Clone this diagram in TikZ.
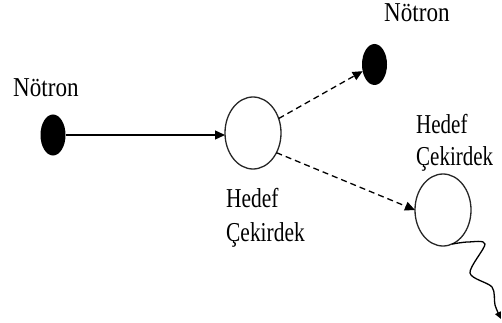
\documentclass[tikz,border=0pt]{standalone}
\usepackage{fontspec}
\setmainfont{Liberation Serif}
\usetikzlibrary{shapes.geometric,arrows.meta}

% labels are set a little taller than wide
\newcommand\mylbl[2]{\scalebox{#1}[1.3]{#2}}

\begin{document}
\begin{tikzpicture}[x=1pt,y=-1pt,
  nucleus/.style={ellipse,draw=black!85,line width=1.3pt,inner sep=0pt,outer sep=0pt,
                  minimum width=56pt,minimum height=72pt},
  neutron/.style={ellipse,fill=black,inner sep=0pt,outer sep=0pt,
                  minimum width=25pt,minimum height=41pt},
  lbl/.style={anchor=base west,inner sep=0pt,font=\fontsize{21}{24}\selectfont},
  conn/.style={line width=1.3pt,-{Triangle[length=10pt,width=9pt]}},
  dashconn/.style={conn,dash pattern=on 6pt off 4pt},
  wave/.style={line width=1.3pt,-{Triangle[length=7pt,width=6pt]}}
]
\useasboundingbox (0,0) rectangle (502,323);

% particles
\node[neutron] (n1) at (53,135) {};
\node[nucleus] (t1) at (253,133) {};
\node[neutron] (n2) at (374.5,64.5) {};
\node[nucleus] (t2) at (443,210) {};

% labels
\node[lbl] (l1) at (13,97) {\mylbl{1.1}{Nötron}};
\node[lbl] (l2) at (384,22) {\mylbl{1.1}{Nötron}};
\node[lbl] (l3) at (226,207) {\mylbl{1.02}{Hedef}};
\node[lbl] (l4) at (226,241) {\mylbl{1.02}{Çekirdek}};
\node[lbl] (l5) at (416,133) {\mylbl{1.0}{Hedef}};
\node[lbl] (l6) at (416,165) {\mylbl{1.0}{Çekirdek}};

% incoming neutron and scattered products
\draw[conn] (n1.east) -- (n1.east -| t1.west);
\draw[dashconn] (t1) -- (n2);
\draw[dashconn] (t1.-40) -- (t2.west);

% emitted radiation
\coordinate (wEnd) at (501,319);
\draw[wave] plot[smooth,tension=0.5] coordinates
  {(t2.-75) (468,242) (485,244) (470,273) (492,287) (495,305) (wEnd)};
\end{tikzpicture}
\end{document}
